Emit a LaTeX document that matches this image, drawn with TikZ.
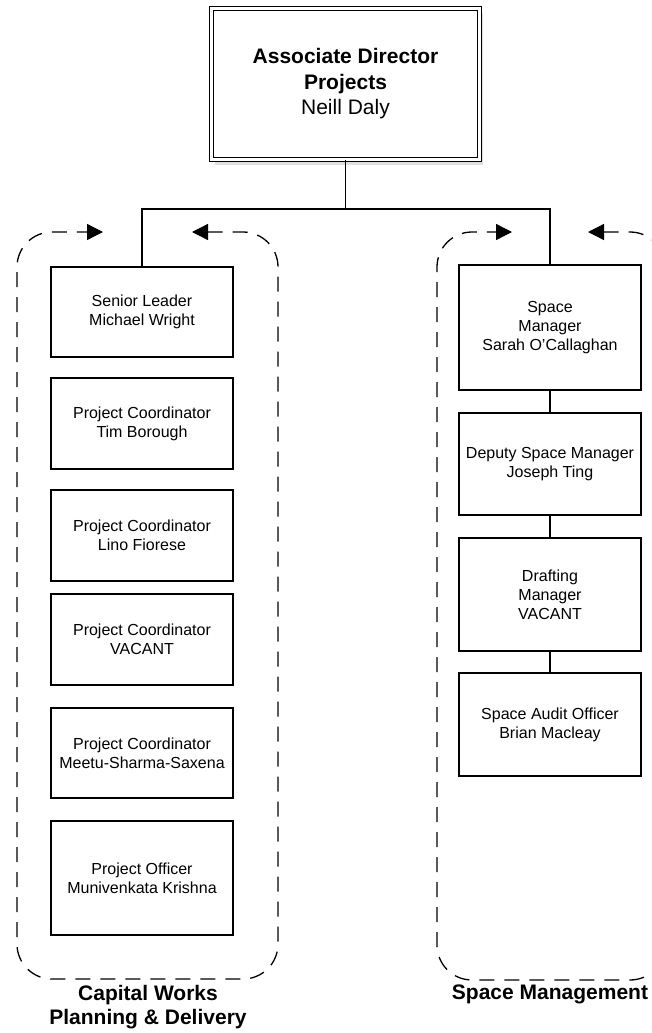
\documentclass[tikz,border=0pt]{standalone}
\usepackage{fontspec}
\setmainfont{Liberation Sans}
\usetikzlibrary{positioning}
\usetikzlibrary{arrows.meta}
\usetikzlibrary{shadows}

\begin{document}
\begin{tikzpicture}[x=1pt, y=-1pt,
    staff/.style={shape=rectangle, draw, line width=1.3pt, minimum width=182pt, align=center, inner sep=0pt, font=\fontsize{16}{19}\selectfont},
    group/.style={dashed, dash pattern=on 15pt off 10pt, line width=1.3pt, rounded corners=35pt, {Triangle[length=16pt, width=16pt]}-{Triangle[length=16pt, width=16pt]}},
    grouplabel/.style={align=center, font=\bfseries\fontsize{21}{24}\selectfont}]
      \useasboundingbox (0,0) rectangle (652,1033);

      % top of the chart
      \node[shape=rectangle, draw, fill=white, line width=1.2pt, double, double distance=2.8pt, minimum width=268pt, minimum height=151pt, align=center,
            font=\fontsize{21}{25.5}\selectfont,
            drop shadow={shadow xshift=3pt, shadow yshift=-5pt, fill=black!12, opacity=1}] (dir) at (345.5,84)
            {\textbf{Associate Director}\\\textbf{Projects}\\Neill Daly};

      % Capital Works Planning & Delivery
      \node[staff, minimum height=90pt] (sl) at (142,312) {Senior Leader\\Michael Wright};
      \node[staff, minimum height=91pt] (pc1) at (142,423.5) {Project Coordinator\\Tim Borough};
      \node[staff, minimum height=91pt] (pc2) at (142,535.5) {Project Coordinator\\Lino Fiorese};
      \node[staff, minimum height=91pt] (pc3) at (142,639.5) {Project Coordinator\\VACANT};
      \node[staff, minimum height=90pt] (pc4) at (142,753) {Project Coordinator\\Meetu-Sharma-Saxena};
      \node[staff, minimum height=114pt] (po) at (142,878) {Project Officer\\Munivenkata Krishna};

      % Space Management
      \node[staff, minimum height=125pt] (sm) at (550,327.5) {Space\\Manager\\Sarah O'Callaghan};
      \node[staff, minimum height=102pt] (dsm) at (550,464) {Deputy Space Manager\\Joseph Ting};
      \node[staff, minimum height=113pt] (drm) at (550,594.5) {Drafting\\Manager\\VACANT};
      \node[staff, minimum height=103pt] (sao) at (550,724.5) {Space Audit Officer\\Brian Macleay};

      \coordinate (bus) at (345.5,209);
      \draw[line width=1.3pt] (dir.south) -- (bus) -| (sl.north);
      \draw[line width=1.3pt] (bus) -| (sm.north);
      \draw[line width=1.3pt] (sm.south) -- (dsm.north);
      \draw[line width=1.3pt] (dsm.south) -- (drm.north);
      \draw[line width=1.3pt] (drm.south) -- (sao.north);

      % dashed containers
      \draw[group] (192,232) -- (278,232) -- (278,979) -- (17,979) -- (17,232) -- (103,232);
      \draw[group] (588,232) -- (665,232) -- (665,980) -- (437,980) -- (437,232) -- (512,232);

      \node[grouplabel] (cwpd) at (148,1007) {Capital Works\\Planning \& Delivery};
      \node[grouplabel] (smgt) at (550,994) {Space Management};
    \end{tikzpicture}
\end{document}
